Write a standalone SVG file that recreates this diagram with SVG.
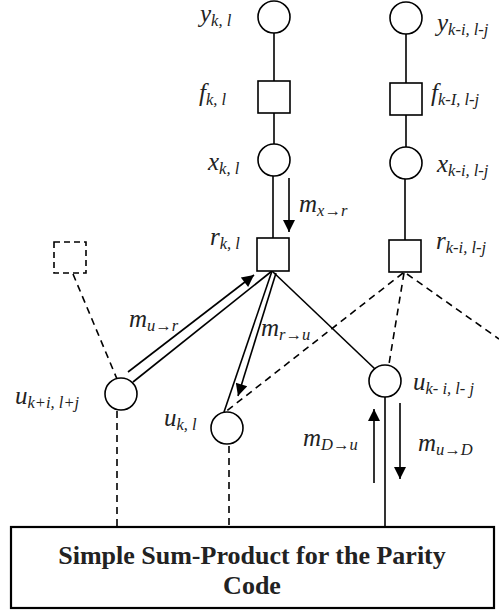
<svg xmlns="http://www.w3.org/2000/svg" width="499" height="612" viewBox="0 0 499 612">
  <style>
    .node { fill: #fff; stroke: #000; stroke-width: 1.6; }
    .ghost { fill: none; stroke: #000; stroke-width: 1.6; stroke-dasharray: 6 4; }
    .edge { stroke: #000; stroke-width: 1.6; fill: none; }
    .dash { stroke: #000; stroke-width: 1.6; fill: none; stroke-dasharray: 7 5; }
    .msg { stroke: #000; stroke-width: 1.6; fill: none; }
    text { font-family: 'Liberation Serif', 'Times New Roman', Times, serif; fill: #222; }
    .lbl { font-style: italic; font-size: 25px; }
    .sub { font-size: 16.5px; }
    .title { font-weight: bold; font-size: 26px; text-anchor: middle; }
  </style>
  <defs>
    <marker id="headBig" viewBox="0 0 10 10" refX="10" refY="5" markerWidth="14" markerHeight="12" markerUnits="userSpaceOnUse" orient="auto">
      <path d="M0,0 L10,5 L0,10 Z" fill="#000"/>
    </marker>
  </defs>

  <!-- edges and messages -->
  <g id="connectors">
    <!-- left column -->
    <line class="edge" x1="274" y1="33" x2="274" y2="81"/>
    <line class="edge" x1="274" y1="113" x2="274" y2="144"/>
    <line class="edge" x1="273" y1="176" x2="273" y2="238"/>
    <!-- right column -->
    <line class="edge" x1="406" y1="34" x2="406" y2="83"/>
    <line class="edge" x1="406" y1="115" x2="406" y2="147"/>
    <line class="edge" x1="405" y1="179" x2="405" y2="240"/>
    <!-- solid edges from r_{k,l} -->
    <line class="edge" x1="133" y1="382" x2="272" y2="271"/>
    <line class="edge" x1="272" y1="271" x2="224" y2="412"/>
    <line class="edge" x1="272" y1="271" x2="375" y2="369"/>
    <!-- dashed edges from r_{k-i,l-j} -->
    <line class="dash" x1="403" y1="273" x2="224" y2="413"/>
    <line class="dash" x1="404" y1="273" x2="389" y2="364"/>
    <line class="dash" x1="407" y1="274" x2="499" y2="339"/>
    <!-- dashed edge to the outlined factor -->
    <line class="dash" x1="73" y1="274" x2="117" y2="379"/>
    <!-- links down to the parity code box -->
    <line class="dash" x1="117" y1="411" x2="117" y2="527"/>
    <line class="dash" x1="229" y1="446" x2="229" y2="531"/>
    <line class="edge" x1="385" y1="397" x2="385" y2="527"/>
    <!-- messages -->
    <line class="msg" x1="289" y1="178" x2="289" y2="232" marker-end="url(#headBig)"/>
    <line class="msg" x1="128" y1="372" x2="254" y2="275" marker-end="url(#headBig)"/>
    <line class="msg" x1="276" y1="273" x2="238" y2="396" marker-end="url(#headBig)"/>
    <line class="msg" x1="374" y1="483" x2="374" y2="409" marker-end="url(#headBig)"/>
    <line class="msg" x1="400" y1="403" x2="400" y2="479" marker-end="url(#headBig)"/>
  </g>

  <!-- variable and factor nodes -->
  <g id="y_kl"><circle class="node" cx="274" cy="17" r="16"/></g>
  <g id="f_kl"><rect class="node" x="258" y="81" width="32" height="32"/></g>
  <g id="x_kl"><circle class="node" cx="274" cy="160" r="16"/></g>
  <g id="r_kl"><rect class="node" x="257" y="238" width="32" height="33"/></g>

  <g id="y_kilj"><circle class="node" cx="406" cy="18" r="16"/></g>
  <g id="f_kilj"><rect class="node" x="390" y="83" width="32" height="32"/></g>
  <g id="x_kilj"><circle class="node" cx="406" cy="163" r="16"/></g>
  <g id="r_kilj"><rect class="node" x="389" y="240" width="32" height="32"/></g>

  <g id="r_other"><rect class="ghost" x="54" y="242" width="32" height="31"/></g>
  <g id="u_kilj_plus"><circle class="node" cx="121" cy="394" r="16"/></g>
  <g id="u_kl"><circle class="node" cx="227" cy="428" r="16"/></g>
  <g id="u_kilj"><circle class="node" cx="385" cy="381" r="16"/></g>

  <g id="parity_code">
    <rect x="11" y="527" width="483" height="81" fill="#fff" stroke="#000" stroke-width="2.2"/>
    <text class="title" x="252" y="564">Simple Sum-Product for the Parity</text>
    <text class="title" x="252" y="594">Code</text>
  </g>

  <!-- labels -->
  <g id="labels">
    <text class="lbl" x="200" y="22">y<tspan class="sub" dy="4">k, l</tspan></text>
    <text class="lbl" x="199" y="101">f<tspan class="sub" dy="4">k, l</tspan></text>
    <text class="lbl" x="208" y="170">x<tspan class="sub" dy="4">k, l</tspan></text>
    <text class="lbl" x="210" y="245">r<tspan class="sub" dy="4">k, l</tspan></text>
    <text class="lbl" x="299" y="212">m<tspan class="sub" dy="4">x→r</tspan></text>

    <text class="lbl" x="437" y="31">y<tspan class="sub" dy="4">k-i, l-j</tspan></text>
    <text class="lbl" x="431" y="101">f<tspan class="sub" dy="4">k-I, l-j</tspan></text>
    <text class="lbl" x="437" y="172">x<tspan class="sub" dy="4">k-i, l-j</tspan></text>
    <text class="lbl" x="436" y="249">r<tspan class="sub" dy="4">k-i, l-j</tspan></text>

    <text class="lbl" x="129" y="327">m<tspan class="sub" dy="4">u→r</tspan></text>
    <text class="lbl" x="261" y="336">m<tspan class="sub" dy="4">r→u</tspan></text>
    <text class="lbl" x="15" y="404">u<tspan class="sub" dy="4">k+i, l+j</tspan></text>
    <text class="lbl" x="164" y="426">u<tspan class="sub" dy="4">k, l</tspan></text>
    <text class="lbl" x="413" y="390">u<tspan class="sub" dy="4">k- i, l- j</tspan></text>
    <text class="lbl" x="303" y="446">m<tspan class="sub" dy="4">D→u</tspan></text>
    <text class="lbl" x="418" y="451">m<tspan class="sub" dy="4">u→D</tspan></text>
  </g>
</svg>
